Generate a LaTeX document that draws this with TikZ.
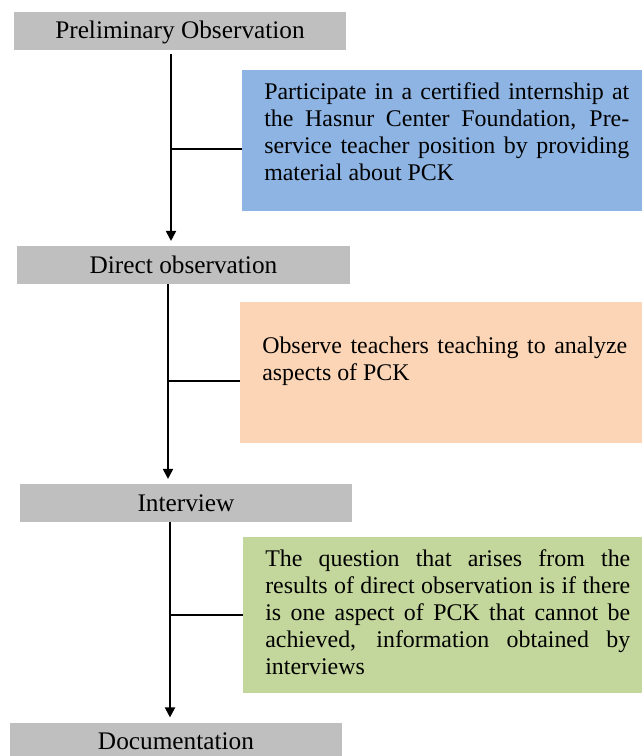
\documentclass[tikz,border=0pt]{standalone}
\usepackage{fontspec}
\setmainfont{Liberation Serif}
\usetikzlibrary{arrows.meta}

\definecolor{stepgray}{RGB}{191,191,191}
\definecolor{noteblue}{RGB}{141,180,227}
\definecolor{noteorange}{RGB}{251,213,181}
\definecolor{notegreen}{RGB}{195,214,155}

\begin{document}
\begin{tikzpicture}[
  stage/.style={fill=stepgray, minimum width=8.3cm, minimum height=0.95cm, inner sep=0pt, text height=13pt, text depth=1pt, font=\fontsize{18}{20}\selectfont},
  panel/.style={anchor=north west, minimum width=10.3cm, inner sep=0pt},
  note/.style={anchor=north west, inner sep=0pt, text width=9.125cm, align=justify, font=\fontsize{17}{19.2}\selectfont},
  flow/.style={line width=1.4pt, shorten >=0.12cm, -{Triangle[width=0.25cm,length=0.25cm]}},
  branch/.style={line width=0.8pt}
]
\useasboundingbox (0,0) rectangle (16.05,-18.9);

\def\xga{4.5};
\def\xgb{4.5875};
\def\xgc{4.65};
\def\xgd{4.4};

\def\yga{-0.7625};
\def\ygb{-6.625};
\def\ygc{-12.575};
\def\ygd{-18.5375};

\def\xsa{4.275};
\def\xsb{4.2};
\def\xsc{4.25};

\def\yja{-3.725};
\def\yjb{-9.525};
\def\yjc{-15.375};

% steps
\node[stage] (g1) at (\xga, \yga) {Preliminary Observation};
\node[stage] (g2) at (\xgb, \ygb) {Direct observation};
\node[stage] (g3) at (\xgc, \ygc) {Interview};
\node[stage] (g4) at (\xgd, \ygd) {Documentation};

% side panels
\node[panel, fill=noteblue, minimum height=3.525cm] (p1) at (6.05, -1.75) {};
\node[panel, fill=noteorange, minimum height=3.525cm] (p2) at (6.0, -7.55) {};
\node[panel, fill=notegreen, minimum height=3.9cm] (p3) at (6.075, -13.425) {};

\node[note] (n1) at ([xshift=0.55cm, yshift=-0.3cm]p1.north west)
  {Participate in a certified internship at\linebreak the Hasnur Center Foundation, Pre-\linebreak service teacher position by providing\linebreak material about PCK};
\node[note] (n2) at ([xshift=0.55cm, yshift=-0.875cm]p2.north west)
  {Observe teachers teaching to analyze\linebreak aspects of PCK};
\node[note] (n3) at ([xshift=0.55cm, yshift=-0.3cm]p3.north west)
  {The question that arises from the\linebreak results of direct observation is if there\linebreak is one aspect of PCK that cannot be\linebreak achieved, information obtained by\linebreak interviews};

\coordinate (j1) at (\xsa, \yja);
\coordinate (j2) at (\xsb, \yjb);
\coordinate (j3) at (\xsc, \yjc);

\draw[flow, shorten <=0.1cm] (g1.south -| j1) -- (g2.north -| j1);
\draw[flow] (g2.south -| j2) -- (g3.north -| j2);
\draw[flow] (g3.south -| j3) -- (g4.north -| j3);

\draw[branch] (j1) -- (j1 -| p1.west);
\draw[branch] (j2) -- (j2 -| p2.west);
\draw[branch] (j3) -- (j3 -| p3.west);

\end{tikzpicture}
\end{document}
